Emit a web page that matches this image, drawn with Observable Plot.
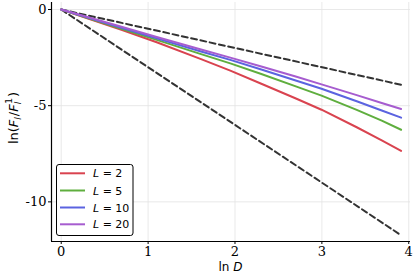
<!DOCTYPE html>
<html>
<head>
<meta charset="utf-8">
<script src="https://cdn.jsdelivr.net/npm/d3@7"></script>
<script src="https://cdn.jsdelivr.net/npm/@observablehq/plot@0.6"></script>
<style>
  html, body { margin: 0; padding: 0; background: #fff; }
  #chart { width: 415px; height: 277px; }
</style>
</head>
<body>
<div id="chart"></div>
<script>
// ln D sample points (D = 1,2,3,5,7,10,15,20,30,40,50)
const lnD = [0, 0.693, 1.099, 1.609, 1.946, 2.303, 2.708, 2.996, 3.401, 3.689, 3.912];
const seriesNames = ["L = 2", "L = 5", "L = 10", "L = 20"];
const seriesL = ["2", "5", "10", "20"];
const valsL2  = [0, -1.05, -1.70, -2.58, -3.18, -3.86, -4.64, -5.21, -6.12, -6.80, -7.35];
const valsL5  = [0, -1.00, -1.58, -2.32, -2.80, -3.35, -4.01, -4.48, -5.22, -5.78, -6.25];
const valsL10 = [0, -0.95, -1.50, -2.18, -2.62, -3.12, -3.70, -4.12, -4.77, -5.25, -5.62];
const valsL20 = [0, -0.90, -1.43, -2.08, -2.50, -2.96, -3.50, -3.89, -4.45, -4.86, -5.17];
const colors = ["#d9434f", "#5fae3e", "#5b63e0", "#a65ccf"];
// reference slopes: ln D^-1 and ln D^-3
const refX = [0, 3.912];
const refSlope1 = [0, -3.912];
const refSlope3 = [0, -11.736];
const xTicks = [0, 1, 2, 3, 4];
const yTicks = [0, -5, -10];

const xDomain = [-0.112, 4.02];
const yDomain = [-12.06, 0.364];

const allVals = [valsL2, valsL5, valsL10, valsL20];
const rows = [];
allVals.forEach((vals, i) => vals.forEach((v, j) => rows.push({x: lnD[j], y: v, s: seriesNames[i]})));
const ref1 = refX.map((x, i) => ({x, y: refSlope1[i]}));
const ref3 = refX.map((x, i) => ({x, y: refSlope3[i]}));

const tickFont = "DejaVu Serif, serif";

const plot = Plot.plot({
  width: 415,
  height: 277,
  marginLeft: 51,
  marginRight: 5,
  marginTop: 2,
  marginBottom: 36,
  style: {background: "#fff", overflow: "visible"},
  x: {domain: xDomain, ticks: xTicks, label: null},
  y: {domain: yDomain, ticks: yTicks, label: null},
  color: {domain: seriesNames, range: colors},
  marks: [
    Plot.gridX(xTicks, {stroke: "#e3e3e3", strokeOpacity: 1, strokeWidth: 0.8}),
    Plot.gridY(yTicks, {stroke: "#e3e3e3", strokeOpacity: 1, strokeWidth: 0.8}),
    Plot.line(ref1, {x: "x", y: "y", stroke: "#333", strokeWidth: 2, strokeDasharray: "6,3.5"}),
    Plot.line(ref3, {x: "x", y: "y", stroke: "#333", strokeWidth: 2, strokeDasharray: "6,3.5"}),
    Plot.line(rows, {x: "x", y: "y", z: "s", stroke: "s", strokeWidth: 2}),
    Plot.ruleX([xDomain[0]], {stroke: "#000", strokeWidth: 1.2}),
    Plot.ruleY([yDomain[0]], {stroke: "#000", strokeWidth: 1.2}),
    Plot.axisX(xTicks, {tickSize: 3, tickPadding: 2, fontSize: 13, fontFamily: tickFont, fill: "#000", stroke: "#000"}),
    Plot.axisY(yTicks, {tickSize: 3, tickPadding: 2, fontSize: 13, fontFamily: tickFont, fill: "#000", stroke: "#000", tickFormat: d => String(d)})
  ]
});
document.getElementById("chart").appendChild(plot);

const svg = d3.select(plot);
svg.selectAll('g[aria-label$="tick label"] text').attr("font-family", tickFont).style("font-family", tickFont);

// x label
const xl = svg.append("text")
  .attr("x", 230.5).attr("y", 271)
  .attr("text-anchor", "middle")
  .attr("font-family", "DejaVu Sans, sans-serif")
  .attr("font-size", 12).attr("fill", "#000");
xl.append("tspan").text("ln ");
xl.append("tspan").attr("font-style", "italic").text("D");

// y label
const yl = svg.append("text")
  .attr("transform", "translate(18,118) rotate(-90)")
  .attr("text-anchor", "middle")
  .attr("font-family", "DejaVu Sans, sans-serif")
  .attr("font-size", 13).attr("fill", "#000");
yl.append("tspan").text("ln(");
yl.append("tspan").attr("font-style", "italic").text("F");
yl.append("tspan").attr("font-style", "italic").attr("font-size", 9).attr("dy", 3).text("l");
yl.append("tspan").attr("dy", -3).attr("dx", 1).text("/");
yl.append("tspan").attr("font-style", "italic").text("F");
yl.append("tspan").attr("font-style", "italic").attr("font-size", 9).attr("dy", 3).text("l");
yl.append("tspan").attr("font-size", 9).attr("dx", -2).attr("dy", -9).text("1");
yl.append("tspan").attr("dy", 6).attr("dx", 1).text(")");

// legend
const lg = svg.append("g");
lg.append("rect").attr("x", 56.5).attr("y", 164.5).attr("width", 76.5).attr("height", 71)
  .attr("rx", 2.5).attr("fill", "#fff").attr("stroke", "#000").attr("stroke-width", 1);
const legendY = [173.3, 190.5, 207.5, 224.3];
seriesL.forEach((l, i) => {
  lg.append("line").attr("x1", 60).attr("x2", 85).attr("y1", legendY[i]).attr("y2", legendY[i])
    .attr("stroke", colors[i]).attr("stroke-width", 2);
  const t = lg.append("text").attr("x", 93).attr("y", legendY[i] + 4)
    .attr("text-anchor", "start")
    .attr("font-family", "DejaVu Sans, sans-serif").attr("font-size", 11).attr("fill", "#000");
  t.append("tspan").attr("font-style", "italic").text("L");
  t.append("tspan").text(" = " + l);
});
</script>
</body>
</html>
